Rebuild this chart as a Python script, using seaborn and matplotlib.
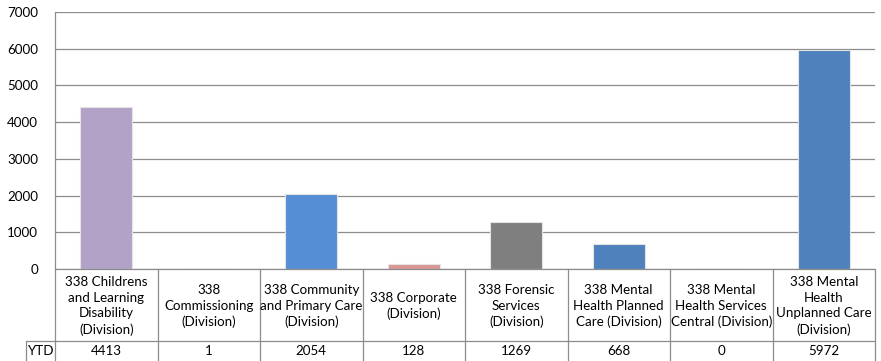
import matplotlib
matplotlib.use("Agg")
import matplotlib.pyplot as plt
import seaborn as sns
import pandas as pd
from matplotlib.lines import Line2D

categories = [
    "338 Childrens\nand Learning\nDisability\n(Division)",
    "338\nCommissioning\n(Division)",
    "338 Community\nand Primary Care\n(Division)",
    "338 Corporate\n(Division)",
    "338 Forensic\nServices\n(Division)",
    "338 Mental\nHealth Planned\nCare (Division)",
    "338 Mental\nHealth Services\nCentral (Division)",
    "338 Mental\nHealth\nUnplanned Care\n(Division)",
]
ytd = [4413, 1, 2054, 128, 1269, 668, 0, 5972]
bar_colors = ["#B3A2C7", "#4F81BD", "#558ED5", "#D99694",
              "#7F7F7F", "#4F81BD", "#4F81BD", "#4F81BD"]
yticks = [0, 1000, 2000, 3000, 4000, 5000, 6000, 7000]
row_label = "YTD"

sns.set_theme(style="white")
plt.rcParams["font.family"] = ["Lato", "DejaVu Sans"]

W, H = 881, 361
fig = plt.figure(figsize=(W / 100, H / 100), dpi=100)
fig.patch.set_facecolor("white")

def fx(px):
    return px / W

def fy(py):
    return 1 - py / H

left, right, top, bottom = 55, 875, 12, 269
ax = fig.add_axes([fx(left), fy(bottom), fx(right - left), fy(top) - fy(bottom)])

df = pd.DataFrame({"cat": categories, "val": ytd})
sns.barplot(data=df, x="cat", y="val", hue="cat", palette=bar_colors,
            saturation=1, legend=False, width=0.51, ax=ax,
            edgecolor="#E4E4E4", linewidth=0.8, zorder=3)

FS = 9.6
ax.set_ylim(0, 7000)
ax.set_xlim(-0.5, len(categories) - 0.5)
ax.set_yticks(yticks)
ax.set_yticklabels([str(t) for t in yticks], fontsize=FS, color="#000000")
ax.tick_params(axis="y", length=0, pad=12)
ax.set_xticks([])
ax.set_xlabel("")
ax.set_ylabel("")
ax.yaxis.grid(True, color="#8C8C8C", linewidth=0.9, zorder=0)
ax.set_axisbelow(True)
for side in ["top", "right", "bottom"]:
    ax.spines[side].set_visible(False)
ax.spines["left"].set_color("#8C8C8C")
ax.spines["left"].set_linewidth(0.9)

# data table below the plot area
line_kw = dict(color="#8C8C8C", linewidth=0.9, transform=fig.transFigure)
row_split = 341
col_w = (right - left) / len(categories)
edges = [left + i * col_w for i in range(len(categories) + 1)]
fig.add_artist(Line2D([fx(left), fx(right)], [fy(bottom), fy(bottom)], **line_kw))
fig.add_artist(Line2D([fx(26), fx(right)], [fy(row_split), fy(row_split)], **line_kw))
fig.add_artist(Line2D([fx(26), fx(26)], [fy(row_split), fy(H + 2)], **line_kw))
for e in edges:
    fig.add_artist(Line2D([fx(e), fx(e)], [fy(bottom), fy(H + 2)], **line_kw))

for i, (cat, v) in enumerate(zip(categories, ytd)):
    cx = (edges[i] + edges[i + 1]) / 2
    fig.text(fx(cx), fy((bottom + row_split) / 2 + 1), cat, ha="center", va="center",
             fontsize=FS, linespacing=1.35, color="#000000")
    fig.text(fx(cx), fy(351), str(v), ha="center", va="center", fontsize=FS,
             color="#000000")
fig.text(fx(40.5), fy(351), row_label, ha="center", va="center", fontsize=FS,
         color="#000000")

fig.savefig("out.png", dpi=100, facecolor="white")
